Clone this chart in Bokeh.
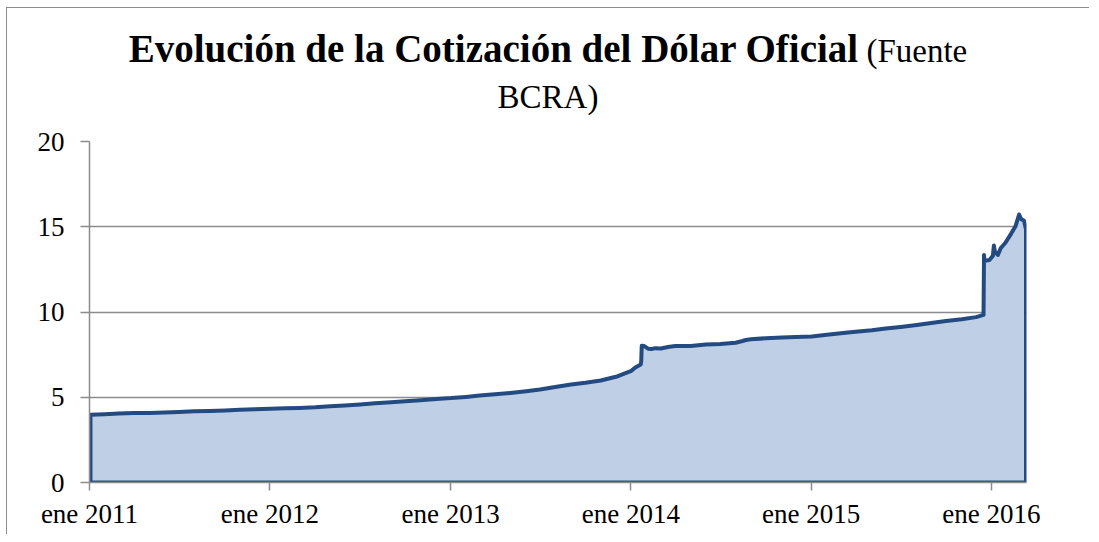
import pandas as pd
from bokeh.plotting import figure
from bokeh.models import FixedTicker, Range1d, Div
from bokeh.layouts import column
from bokeh.embed import file_html
from bokeh.resources import INLINE

# ---- data ----
dates = [
    "2011-01-03", "2011-02-01", "2011-03-01", "2011-04-01", "2011-05-02", "2011-06-01",
    "2011-07-01", "2011-08-01", "2011-09-01", "2011-10-03", "2011-11-01", "2011-12-01",
    "2012-01-02", "2012-02-01", "2012-03-01", "2012-04-02", "2012-05-02", "2012-06-01",
    "2012-07-02", "2012-08-01", "2012-09-03", "2012-10-01", "2012-11-01", "2012-12-03",
    "2013-01-02", "2013-02-01", "2013-03-01", "2013-04-01", "2013-05-02", "2013-06-03",
    "2013-07-01", "2013-08-01", "2013-09-02", "2013-10-01", "2013-11-01", "2013-12-02",
    "2013-12-20", "2014-01-02", "2014-01-10", "2014-01-21", "2014-01-22", "2014-01-23",
    "2014-01-28", "2014-02-05", "2014-02-12", "2014-02-20", "2014-03-03", "2014-03-17",
    "2014-04-01", "2014-05-02", "2014-06-02", "2014-07-01", "2014-08-01", "2014-08-15",
    "2014-08-22", "2014-09-01", "2014-10-01", "2014-11-03", "2014-12-01",
    "2015-01-02", "2015-02-02", "2015-03-02", "2015-04-01", "2015-05-04", "2015-06-01",
    "2015-07-01", "2015-08-03", "2015-09-01", "2015-10-01", "2015-11-02", "2015-12-01",
    "2015-12-16", "2015-12-17", "2015-12-18", "2015-12-28", "2016-01-04", "2016-01-06",
    "2016-01-08", "2016-01-14", "2016-01-20", "2016-01-29", "2016-02-10", "2016-02-19",
    "2016-02-26", "2016-03-01", "2016-03-07", "2016-03-11",
]
usd_ars = [
    3.97, 4.01, 4.04, 4.07, 4.08, 4.10,
    4.13, 4.18, 4.20, 4.23, 4.27, 4.30,
    4.33, 4.35, 4.37, 4.41, 4.47, 4.52,
    4.58, 4.65, 4.71, 4.77, 4.83, 4.90,
    4.95, 5.02, 5.10, 5.17, 5.25, 5.35,
    5.45, 5.60, 5.75, 5.85, 5.98, 6.20,
    6.40, 6.55, 6.75, 6.92, 7.10, 8.02,
    8.00, 7.85, 7.83, 7.88, 7.86, 7.95,
    8.00, 8.00, 8.10, 8.13, 8.20, 8.30,
    8.36, 8.40, 8.46, 8.50, 8.53,
    8.56, 8.66, 8.75, 8.84, 8.93, 9.03,
    9.12, 9.24, 9.35, 9.47, 9.58, 9.70,
    9.83, 13.35, 13.00, 13.05, 13.30, 13.90,
    13.55, 13.35, 13.75, 14.05, 14.60, 15.05,
    15.72, 15.45, 15.35, 14.85,
]
tick_dates = ["2011-01-01", "2012-01-01", "2013-01-01", "2014-01-01", "2015-01-01", "2016-01-01"]
tick_labels = ["ene 2011", "ene 2012", "ene 2013", "ene 2014", "ene 2015", "ene 2016"]
y_ticks = [0, 5, 10, 15, 20]
title_bold = "Evolución de la Cotización del Dólar Oficial"
title_rest = "(Fuente BCRA)"

# ---- build ----
x = list(pd.to_datetime(dates))
tick_ms = [pd.Timestamp(d).value / 1e6 for d in tick_dates]

FONT = "Liberation Serif"
GRAY = "#8C8C8C"
FILL = "#BFD0E6"
LINE = "#234B82"

W = 1082
p = figure(
    width=W, height=414, x_axis_type="datetime",
    output_backend="svg", toolbar_location=None,
    min_border_left=82, min_border_right=63, min_border_top=21, min_border_bottom=52,
    background_fill_color="white", border_fill_color="white",
)
p.outline_line_color = None
p.x_range = Range1d(pd.Timestamp(tick_dates[0]), x[-1] + pd.Timedelta(days=1))
p.y_range = Range1d(y_ticks[0], y_ticks[-1])

px = [x[0]] + x + [x[-1]]
py = [0] + usd_ars + [0]
p.patch(px, py, fill_color=FILL, line_color=LINE, line_width=4, line_join="round")

# axes
p.xaxis.ticker = FixedTicker(ticks=tick_ms)
p.xaxis.major_label_overrides = {t: l for t, l in zip(tick_ms, tick_labels)}
p.yaxis.ticker = FixedTicker(ticks=y_ticks)
for ax in (p.xaxis[0], p.yaxis[0]):
    ax.axis_line_color = GRAY
    ax.axis_line_width = 1.5
    ax.major_tick_line_color = GRAY
    ax.major_tick_line_width = 1.5
    ax.major_tick_in = 0
    ax.minor_tick_line_color = None
    ax.major_label_text_font = FONT
    ax.major_label_text_font_size = "27px"
    ax.major_label_text_color = "black"
p.xaxis.major_tick_out = 8
p.yaxis.major_tick_out = 9
p.xaxis.major_label_standoff = 8
p.yaxis.major_label_standoff = 16

p.xgrid.grid_line_color = None
p.ygrid.grid_line_color = GRAY
p.ygrid.grid_line_width = 1.5

fuente, bcra = title_rest.split(" ")
title = Div(
    text=(
        f'<div style="font-family:\'{FONT}\'; color:black; text-align:center; '
        f'padding-top:22px; padding-left:18px; width:{W - 18}px;">'
        f'<div style="line-height:38px; white-space:nowrap;">'
        f'<span style="font-weight:bold; font-size:39px;">{title_bold}</span>'
        f'<span style="font-size:33px;"> {fuente}</span></div>'
        f'<div style="line-height:37px; margin-top:2px; font-size:33px;">{bcra}</div>'
        f'</div>'
    ),
    width=W, height=112, margin=0,
)

layout = column(title, p, spacing=0, margin=(7, 0, 0, 6))
layout.styles = {"border-left": "1px solid #8C8C8C", "border-top": "1px solid #8C8C8C",
                 "background-color": "white"}

open("out.html", "w").write(file_html(layout, INLINE))
